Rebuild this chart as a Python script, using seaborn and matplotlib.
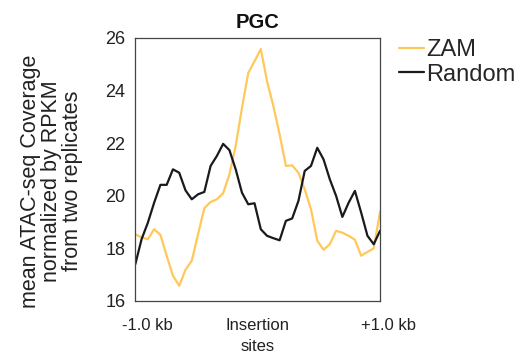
import numpy as np
import pandas as pd
import matplotlib
matplotlib.use("Agg")
import matplotlib.pyplot as plt
import matplotlib.transforms as mtransforms
from matplotlib.ticker import MultipleLocator
import seaborn as sns

# Mean ATAC-seq coverage profiles across +/-1 kb around insertion sites (40 bins)
zam = [18.53, 18.41, 18.34, 18.72, 18.51, 17.71, 16.95, 16.57, 17.18, 17.52,
       18.53, 19.52, 19.76, 19.86, 20.09, 20.81, 21.89, 23.34, 24.67, 25.11,
       25.58, 24.35, 23.41, 22.33, 21.13, 21.15, 20.87, 20.24, 19.48, 18.28,
       17.94, 18.15, 18.66, 18.59, 18.47, 18.32, 17.71, 17.86, 17.99, 19.38]
random_sites = [17.39, 18.34, 18.97, 19.73, 20.41, 20.41, 21.00, 20.87, 20.20, 19.86,
                20.05, 20.14, 21.13, 21.51, 21.97, 21.73, 21.00, 20.11, 19.67, 19.71,
                18.72, 18.47, 18.38, 18.30, 19.04, 19.13, 19.80, 20.94, 21.13, 21.82,
                21.38, 20.62, 19.99, 19.19, 19.73, 20.18, 19.35, 18.47, 18.15, 18.66]
series_names = ["ZAM", "Random"]
tick_positions = [-1.0, 0.0, 1.0]
tick_labels = ["-1.0 kb", "Insertion\nsites", "+1.0 kb"]

position = np.linspace(-1.0, 1.0, len(zam))
df = pd.DataFrame({
    "position": np.concatenate([position, position]),
    "coverage": zam + random_sites,
    "series": [series_names[0]] * len(zam) + [series_names[1]] * len(random_sites),
})

sns.set_theme(style="white")
plt.rcParams["font.family"] = ["Liberation Sans", "DejaVu Sans"]

fig = plt.figure(figsize=(5.30, 3.58), dpi=100)
ax = fig.add_axes([0.2553, 0.160, 0.4617, 0.734])

palette = {"ZAM": "#FFC85A", "Random": "#1a1a1a"}
sns.lineplot(data=df, x="position", y="coverage", hue="series", palette=palette,
             hue_order=series_names, linewidth=1.6, ax=ax, legend=False)

ax.set_xlim(-1.0, 1.0)
ax.set_ylim(16, 26)
ax.yaxis.set_major_locator(MultipleLocator(2))
ax.yaxis.set_minor_locator(MultipleLocator(1))
ax.set_xticks(tick_positions)
ax.set_xticklabels(tick_labels, fontsize=12, color="#222222", linespacing=1.5)
ax.tick_params(axis="y", which="both", direction="in", length=3, width=0.8,
               color="#444444", labelsize=13, labelcolor="#222222", pad=7)
ax.tick_params(axis="x", which="both", direction="in", length=3, width=0.8,
               color="#444444", pad=12.5)

# nudge the end labels slightly inward
labels = ax.get_xticklabels()
labels[0].set_transform(labels[0].get_transform() +
                        mtransforms.ScaledTranslation(12 / 100, 0, fig.dpi_scale_trans))
labels[2].set_transform(labels[2].get_transform() +
                        mtransforms.ScaledTranslation(8 / 100, 0, fig.dpi_scale_trans))

for side in ["left", "right", "top", "bottom"]:
    ax.spines[side].set_visible(True)
    ax.spines[side].set_color("#444444")
    ax.spines[side].set_linewidth(0.9)

ax.set_xlabel("")
ax.set_ylabel("mean ATAC-seq Coverage\nnormalized by RPKM\nfrom two replicates",
              fontsize=15.5, color="#222222", linespacing=1.0)
ax.yaxis.set_label_coords(-0.212, 0.455)
ax.set_title("PGC", fontsize=14.5, fontweight="bold", color="#111111", pad=7)

handles = [plt.Line2D([], [], color=palette[n], linewidth=1.6) for n in series_names]
fig.legend(handles, series_names, loc="upper left", bbox_to_anchor=(0.753, 0.890),
           frameon=False, fontsize=17, handlelength=1.05, handletextpad=0.1,
           labelspacing=0.1, borderaxespad=0, borderpad=0)

fig.savefig("out.png", dpi=100)
